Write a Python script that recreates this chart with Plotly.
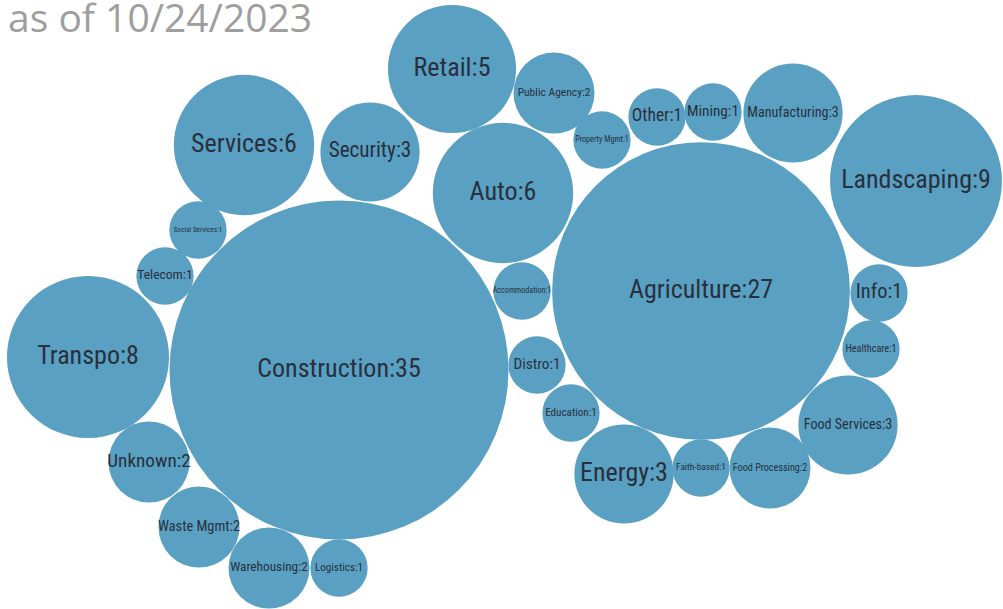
import math
import plotly.graph_objects as go

# ---- data ----
categories = ["Construction", "Agriculture", "Landscaping", "Transpo", "Services", "Auto",
              "Retail", "Security", "Manufacturing", "Food Services", "Energy",
              "Public Agency", "Food Processing", "Unknown", "Waste Mgmt", "Warehousing",
              "Property Mgmt", "Other", "Mining", "Info", "Healthcare", "Faith-based",
              "Education", "Distro", "Accommodation", "Social Services", "Telecom", "Logistics"]
counts = [35, 27, 9, 8, 6, 6, 5, 3, 3, 3, 3, 2, 2, 2, 2, 2, 1, 1, 1, 1, 1, 1, 1, 1, 1, 1, 1, 1]
subtitle = "as of 10/24/2023"

# ---- pack layout (circle centres, pixel space) ----
centers = [(339, 370), (701, 291), (916, 181), (88, 357), (244, 145), (503, 193),
           (452, 69), (370, 152), (793, 113), (848, 425), (624, 474),
           (554, 93), (770, 468), (149, 462), (199, 527), (269, 568),
           (602, 140), (657, 117), (713, 112), (879, 293), (871, 349), (701, 468),
           (571, 413), (537, 365), (522, 291), (198, 230), (165, 276), (339, 568)]

W, H = 1003, 609
K = 169.5 / math.sqrt(35)   # px radius per sqrt(count)
FILL = "#5aa0c3"
TEXT = "#28303c"
LABEL_FONT = "Roboto Condensed, Liberation Sans Narrow, DejaVu Sans Condensed, Roboto"

labels = [f"{c}:{n}" for c, n in zip(categories, counts)]
radii = [K * math.sqrt(n) for n in counts]

shapes = []
for (cx, cy), r in zip(centers, radii):
    shapes.append(dict(type="circle", xref="x", yref="y",
                       x0=cx - r, x1=cx + r, y0=cy - r, y1=cy + r,
                       fillcolor=FILL, line=dict(width=0), layer="below"))

sizes = [min(26, 2 * r * 0.96 / (len(t) * 0.45)) for r, t in zip(radii, labels)]

fig = go.Figure(go.Scatter(
    x=[c[0] for c in centers], y=[c[1] for c in centers],
    mode="text", text=labels,
    textfont=dict(family=LABEL_FONT, size=sizes, color=TEXT),
    hoverinfo="text"))

fig.add_annotation(text=subtitle, xref="x", yref="y", x=6, y=16,
                   xanchor="left", yanchor="middle", showarrow=False,
                   font=dict(family="Open Sans", size=39, color="#9e9e9e"))

fig.update_layout(width=W, height=H, margin=dict(l=0, r=0, t=0, b=0),
                  plot_bgcolor="white", paper_bgcolor="white",
                  shapes=shapes, showlegend=False,
                  xaxis=dict(range=[0, W], visible=False, fixedrange=True),
                  yaxis=dict(range=[H, 0], visible=False, fixedrange=True))

fig.write_html("out.html")
